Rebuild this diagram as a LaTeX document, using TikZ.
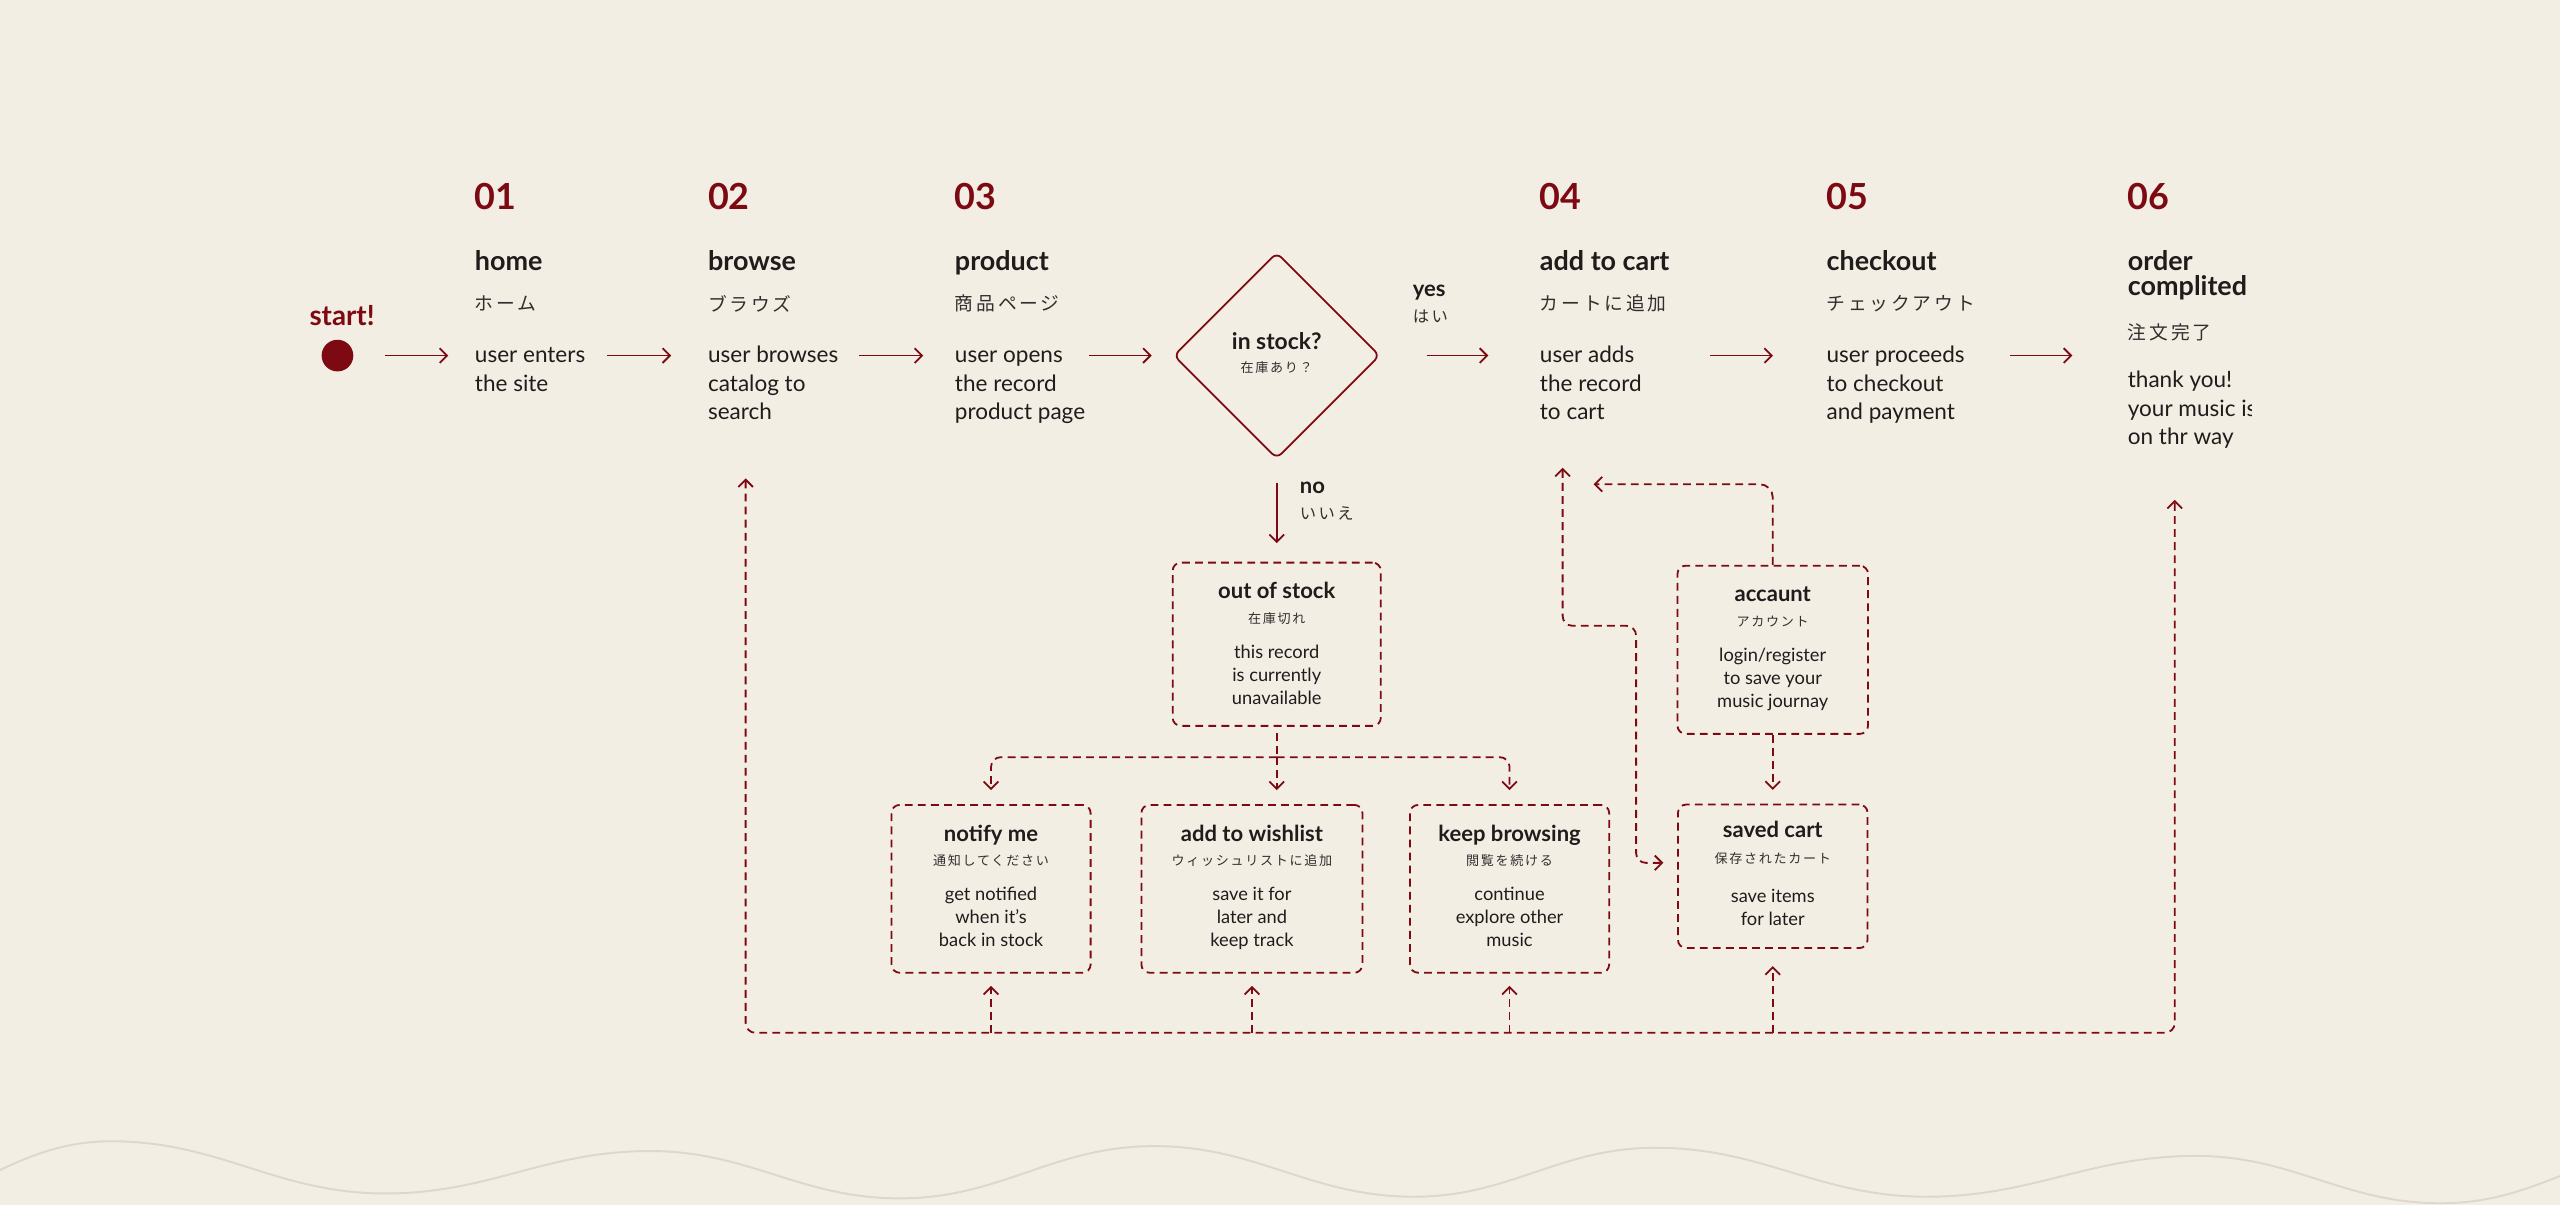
\documentclass[tikz,border=0pt]{standalone}
\usepackage{fontspec}
\setmainfont{Lato}
\newfontfamily\jpfont[LetterSpace=15]{Noto Sans CJK JP}
\newfontfamily\jpsmallfont[LetterSpace=13]{Noto Sans CJK JP}
\usetikzlibrary{positioning,shapes.geometric,arrows.meta}

\definecolor{cream}{RGB}{243,238,228}
\definecolor{wine}{RGB}{125,10,18}
\definecolor{ink}{RGB}{32,28,28}
\definecolor{inkjp}{RGB}{50,46,46}
\definecolor{wavegray}{RGB}{221,215,204}

\newcommand{\bodystrut}{\rule[-5.2pt]{0pt}{17.4pt}}
\newcommand{\boxstrut}{\rule[-3.8pt]{0pt}{14pt}}
\newcommand{\titlestrut}{\rule[-3pt]{0pt}{15.3pt}}
\newcommand{\boxhead}[1]{{\fontsize{13.5}{14}\selectfont\bfseries #1}}
\newcommand{\boxjp}[1]{{\jpsmallfont\fontsize{8}{14}\selectfont\color{inkjp}#1}}

\begin{document}
\begin{tikzpicture}[x=1pt,y=-1pt,
      num/.style={font=\fontsize{22}{24}\selectfont\bfseries,text=wine,inner sep=0pt,anchor=base west},
      steptitle/.style={font=\fontsize{16.5}{15.3}\selectfont\bfseries,text=ink,inner sep=0pt,anchor=base west},
      stepjp/.style={font=\jpfont\fontsize{11.5}{14}\selectfont,text=inkjp,inner sep=0pt,anchor=west},
      stepbody/.style={font=\fontsize{13.8}{17.4}\selectfont,text=ink,inner sep=0pt,anchor=north west,align=left},
      lbl/.style={font=\fontsize{13.5}{14}\selectfont\bfseries,text=ink,inner sep=0pt,anchor=base west},
      lbljp/.style={font=\jpfont\fontsize{10}{12}\selectfont,text=inkjp,inner sep=0pt,anchor=west},
      decision/.style={diamond,aspect=1,draw=wine,line width=1.1pt,rounded corners=4pt,
        minimum width=126.3pt,minimum height=126.3pt,inner sep=0pt,align=center,
        font=\fontsize{11.2}{14}\selectfont,text=ink},
      optbox/.style={draw=wine,line width=1.1pt,dash pattern=on 4.8pt off 3.2pt,
        rounded corners=5pt,inner sep=0pt},
      boxtext/.style={font=\fontsize{11.2}{14}\selectfont,text=ink,inner sep=0pt,align=center},
      flow/.style={draw=wine,line width=1.1pt,-{Straight Barb[length=4.5pt,width=9pt]}},
      dline/.style={draw=wine,line width=1.1pt,dash pattern=on 4.8pt off 3.2pt},
      dflow/.style={dline,-{Straight Barb[length=4.5pt,width=9pt]}},
      dboth/.style={dline,{Straight Barb[length=4.5pt,width=9pt]}-{Straight Barb[length=4.5pt,width=9pt]}}]
    \useasboundingbox (0,0) rectangle (1568,738);
    \clip (0,0) rectangle (1568,738);
    \fill[cream] (0,0) rectangle (1568,738);

    % wave at the bottom
    \draw[wavegray,line width=1.2pt] (-90,745) to[out=0,in=180] (68,699) to[out=0,in=180] (236,731)
      to[out=0,in=180] (398,705) to[out=0,in=180] (551,734) to[out=0,in=180] (707,702)
      to[out=0,in=180] (866,733) to[out=0,in=180] (1014,703) to[out=0,in=180] (1180,733)
      to[out=0,in=180] (1345,708) to[out=0,in=180] (1495,737) to[out=0,in=180] (1650,700);

    % start
    \node[circle,fill=wine,minimum size=19.4pt,inner sep=0pt] (startdot) at (206.7,217.8) {};
    \node[font=\fontsize{17}{18}\selectfont\bfseries,text=wine,inner sep=0pt,anchor=base] (starttxt) at (209.5,199.5) {start!};

    % 01 home
    \node[num] (n1) at (290.7,128.2) {01};
    \node[steptitle] (t1) at (290.7,165.8) {home};
    \node[stepjp] (j1) at (290.7,186) {ホーム};
    \node[stepbody] (b1) at (290.7,209.7) {\bodystrut user enters\\\bodystrut the site};

    % 02 browse
    \node[num] (n2) at (433.5,128.2) {02};
    \node[steptitle] (t2) at (433.5,165.8) {browse};
    \node[stepjp] (j2) at (433.5,186) {ブラウズ};
    \node[stepbody] (b2) at (433.5,209.7) {\bodystrut user browses\\\bodystrut catalog to\\\bodystrut search};

    % 03 product
    \node[num] (n3) at (584.7,128.2) {03};
    \node[steptitle] (t3) at (584.7,165.8) {product};
    \node[stepjp] (j3) at (584.7,186) {商品ページ};
    \node[stepbody] (b3) at (584.7,209.7) {\bodystrut user opens\\\bodystrut the record\\\bodystrut product page};

    % decision
    \node[decision] (stock) at (782,217.8) {\boxstrut{\fontsize{14}{14}\selectfont\bfseries in stock?}\\\boxstrut{\jpsmallfont\fontsize{8}{14}\selectfont\color{inkjp}在庫あり？}};
    \node[lbl] (yeslbl) at (865.1,181.7) {yes};
    \node[lbljp] (yesjp) at (865.1,194) {はい};
    \node[lbl] (nolbl) at (796,302.2) {no};
    \node[lbljp] (nojp) at (796,314.2) {いいえ};

    % 04 add to cart
    \node[num] (n4) at (943,128.2) {04};
    \node[steptitle] (t4) at (943,165.8) {add to cart};
    \node[stepjp] (j4) at (943,186) {カートに追加};
    \node[stepbody] (b4) at (943,209.7) {\bodystrut user adds\\\bodystrut the record\\\bodystrut to cart};

    % 05 checkout
    \node[num] (n5) at (1118.6,128.2) {05};
    \node[steptitle] (t5) at (1118.6,165.8) {checkout};
    \node[stepjp] (j5) at (1118.6,186) {チェックアウト};
    \node[stepbody] (b5) at (1118.6,209.7) {\bodystrut user proceeds\\\bodystrut to checkout\\\bodystrut and payment};

    % 06 order complited
    \begin{scope}
      \clip (1290,100) rectangle (1379,300);
      \node[num] (n6) at (1303.1,128.2) {06};
      \node[steptitle,anchor=north west,align=left] (t6) at (1303.1,153.1) {\titlestrut order\\\titlestrut complited};
      \node[stepjp] (j6) at (1303.1,203.7) {注文完了};
      \node[stepbody] (b6) at (1303.1,225.2) {\bodystrut thank you!\\\bodystrut your music is\\\bodystrut on thr way};
    \end{scope}

    % option boxes
    \node[optbox,minimum width=127.5pt,minimum height=100pt] (oos) at (782,394.6) {};
    \node[boxtext,below=12.3pt of oos.north] (oost) {\boxstrut\boxhead{out of stock}\\[1pt]\boxstrut\boxjp{在庫切れ}\\[7.5pt]\boxstrut this record\\\boxstrut is currently\\\boxstrut unavailable};

    \node[optbox,minimum width=122pt,minimum height=102.8pt] (ntf) at (607,544.4) {};
    \node[boxtext,below=12.3pt of ntf.north] (ntft) {\boxstrut\boxhead{notify me}\\[1pt]\boxstrut\boxjp{通知してください}\\[7.5pt]\boxstrut get notified\\\boxstrut when it's\\\boxstrut back in stock};

    \node[optbox,minimum width=135.4pt,minimum height=102.8pt,right=30pt of ntf] (wsh) {};
    \node[boxtext,below=12.3pt of wsh.north] (wsht) {\boxstrut\boxhead{add to wishlist}\\[1pt]\boxstrut\boxjp{ウィッシュリストに追加}\\[7.5pt]\boxstrut save it for\\\boxstrut later and\\\boxstrut keep track};

    \node[optbox,minimum width=122pt,minimum height=102.8pt,right=28pt of wsh] (kbr) {};
    \node[boxtext,below=12.3pt of kbr.north] (kbrt) {\boxstrut\boxhead{keep browsing}\\[1pt]\boxstrut\boxjp{閲覧を続ける}\\[7.5pt]\boxstrut continue\\\boxstrut explore other\\\boxstrut music};

    \node[optbox,minimum width=116.7pt,minimum height=103pt] (acc) at (1085.8,398) {};
    \node[boxtext,below=12.3pt of acc.north] (acct) {\boxstrut\boxhead{accaunt}\\[1pt]\boxstrut\boxjp{アカウント}\\[7.5pt]\boxstrut login/register\\\boxstrut to save your\\\boxstrut music journay};

    \node[optbox,minimum width=116.1pt,minimum height=87.9pt,below=42.2pt of acc] (svc) {};
    \node[boxtext,below=10.5pt of svc.north] (svct) {\boxstrut\boxhead{saved cart}\\[1.5pt]\boxstrut\boxjp{保存されたカート}\\[10pt]\boxstrut save items\\\boxstrut for later};

    \coordinate[below=18.6pt of oos.south] (fork);
    \coordinate (busL) at (456.7,632.6);
    \coordinate (busR) at (1332,632.6);
    \coordinate (acctip) at (976.1,296.6);
    \coordinate (jogtop) at (957.1,383.3);
    \coordinate (jogbot) at (1002.1,528.5);

    % main flow
    \draw[flow,shorten <=19.2pt,shorten >=16.1pt] (startdot) -- (startdot -| b1.west);
    \draw[flow,shorten <=81pt,shorten >=22.4pt] (b1.west |- startdot) -- (b2.west |- startdot);
    \draw[flow,shorten <=92.9pt,shorten >=19.2pt] (b2.west |- startdot) -- (b3.west |- startdot);
    \draw[flow,shorten <=82.3pt,shorten >=12.9pt] (b3.west |- startdot) -- (stock);
    \draw[flow,shorten <=28.1pt,shorten >=31.4pt] (stock) -- (b4.west |- startdot);
    \draw[flow,shorten <=104.5pt,shorten >=32.6pt] (b4.west |- startdot) -- (b5.west |- startdot);
    \draw[flow,shorten <=112.7pt,shorten >=33.8pt] (b5.west |- startdot) -- (b6.west |- startdot);
    \draw[flow,shorten <=14.2pt,shorten >=11.4pt] (stock) -- (oos);

    % out of stock options
    \draw[dline,shorten <=4pt] (oos) -- (fork);
    \draw[dflow,rounded corners=6pt,shorten >=8.5pt] (fork) -| (ntf);
    \draw[dflow,shorten >=8.5pt] (fork) -- (fork |- wsh.north);
    \draw[dflow,rounded corners=6pt,shorten >=8.5pt] (fork) -| (kbr);

    % return paths
    \draw[dboth,rounded corners=6pt,shorten <=30.7pt,shorten >=28.4pt] (b2.south -| busL) -- (busL) -- (busR) -- (b6.south -| busR);
    \draw[dflow,shorten >=7.5pt] (busL -| ntf) -- (ntf);
    \draw[dflow,shorten >=7.5pt] (busL -| wsh) -- (wsh);
    \draw[dflow,shorten >=7.5pt] (busL -| kbr) -- (kbr);
    \draw[dflow,shorten >=10.5pt] (busL -| svc) -- (svc);

    % account and saved cart
    \draw[dflow,rounded corners=8pt] (acc) |- (acctip);
    \draw[dflow,shorten >=8.5pt] (acc) -- (svc);
    \draw[dboth,rounded corners=6pt,shorten <=24.2pt,shorten >=8.4pt] (b4.south -| jogtop) -- (jogtop) -| (jogbot) -- (jogbot -| svc.west);
  \end{tikzpicture}
\end{document}
